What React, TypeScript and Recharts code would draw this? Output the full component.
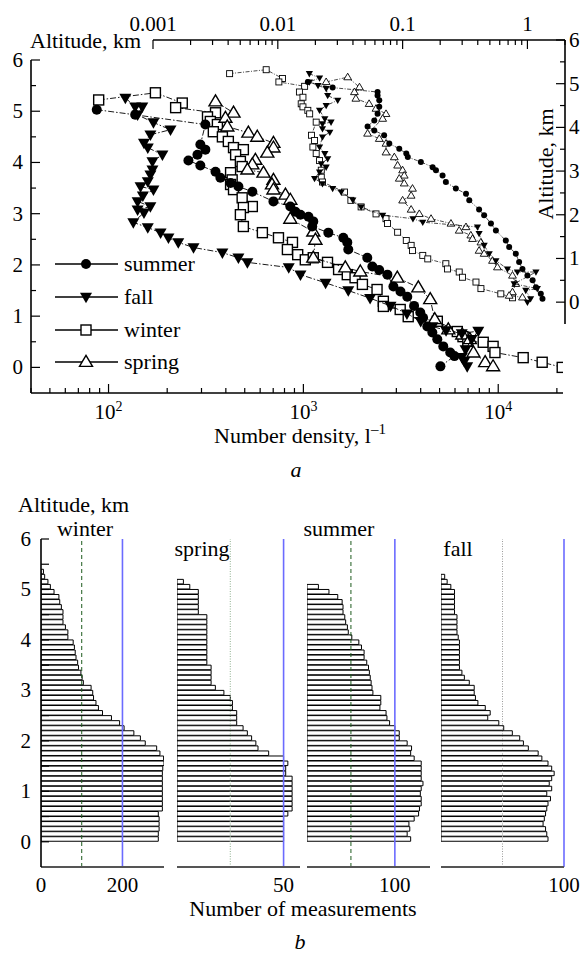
import React from 'react';
import { ScatterChart, Scatter, XAxis, YAxis, BarChart, Bar, ReferenceLine } from 'recharts';

const FONT = '"Liberation Serif", "Times New Roman", Times, serif';
const TICK_FS = 21;
const TEXT_FS = 22;

// ---------- (a) number density, l^-1, vs altitude, km (bottom + left axes)
const SUMMER_N = [87, 137, 314, 296, 314, 286, 257, 296, 354, 375, 423, 464, 547, 702, 857, 909, 966, 1062, 1124, 1110, 1343, 1603, 1680, 1700, 2128, 2260, 2450, 2700, 2898, 3150, 3414, 3700, 3981, 4115, 4326, 4590, 4868, 5224, 5670, 5960, 5050];
const SUMMER_ALT = [5.03, 4.93, 4.74, 4.35, 4.25, 4.15, 4.04, 3.94, 3.82, 3.7, 3.6, 3.53, 3.43, 3.24, 3.14, 3.04, 2.98, 2.94, 2.85, 2.75, 2.63, 2.53, 2.44, 2.3, 2.14, 1.97, 1.9, 1.81, 1.58, 1.48, 1.38, 1.2, 1.07, 0.97, 0.8, 0.68, 0.55, 0.41, 0.29, 0.22, 0.02];

const FALL_N = [122, 137, 149, 141, 170, 208, 164, 152, 159, 189, 168, 168, 164, 159, 146, 170, 150, 141, 164, 141, 152, 134, 159, 185, 203, 228, 273, 384, 464, 516, 841, 966, 1300, 1700, 2200, 2800, 3400, 4000, 4600, 5400, 6500, 7900, 7300, 6800, 6500, 6700, 6930];
const FALL_ALT = [5.26, 5.09, 5.09, 4.93, 4.78, 4.64, 4.54, 4.38, 4.29, 4.15, 4.02, 3.86, 3.76, 3.63, 3.53, 3.47, 3.35, 3.24, 3.14, 3.08, 3.02, 2.83, 2.73, 2.63, 2.53, 2.44, 2.34, 2.24, 2.14, 2.05, 1.95, 1.81, 1.65, 1.5, 1.35, 1.2, 1.05, 0.9, 0.8, 0.72, 0.66, 0.71, 0.55, 0.35, 0.2, 0.12, 0.02];

const WINTER_N = [89, 174, 239, 221, 354, 322, 333, 362, 345, 384, 412, 438, 492, 449, 475, 485, 423, 431, 423, 438, 485, 547, 492, 475, 492, 616, 745, 879, 828, 935, 1023, 1124, 1330, 1516, 1680, 1842, 2009, 2388, 2573, 2573, 3140, 3452, 4868, 6166, 6594, 6980, 8376, 9413, 9620, 13430, 16810, 21300];
const WINTER_ALT = [5.22, 5.36, 5.16, 5.07, 4.97, 4.89, 4.8, 4.74, 4.6, 4.5, 4.41, 4.29, 4.25, 4.15, 4.02, 3.92, 3.8, 3.66, 3.57, 3.47, 3.31, 3.14, 3.12, 2.98, 2.75, 2.63, 2.53, 2.44, 2.3, 2.2, 2.1, 2.14, 2.05, 1.91, 1.81, 1.75, 1.62, 1.52, 1.29, 1.19, 1.13, 0.99, 0.9, 0.7, 0.6, 0.51, 0.49, 0.41, 0.29, 0.19, 0.1, 0.0];

const SPRING_N = [354, 438, 398, 407, 522, 580, 702, 702, 653, 567, 547, 516, 624, 702, 690, 702, 809, 857, 857, 1124, 1153, 1124, 1641, 1960, 3034, 3890, 4477, 4722, 5543, 6540, 7150, 7460, 8570, 9413];
const SPRING_ALT = [5.19, 4.97, 4.87, 4.7, 4.58, 4.5, 4.38, 4.29, 4.19, 4.05, 3.96, 3.86, 3.8, 3.66, 3.57, 3.47, 3.37, 3.27, 2.9, 2.65, 2.49, 2.14, 1.95, 1.87, 1.75, 1.56, 1.33, 0.94, 0.74, 0.64, 0.55, 0.29, 0.1, 0.02];

// ---------- (a) second set of profiles (top + right axes)
const SUMMER_TOP_N = [0.0174, 0.0275, 0.063, 0.063, 0.065, 0.065, 0.063, 0.0593, 0.0524, 0.0593, 0.0711, 0.0782, 0.094, 0.107, 0.11, 0.14, 0.174, 0.185, 0.209, 0.222, 0.267, 0.322, 0.342, 0.41, 0.45, 0.51, 0.559, 0.671, 0.714, 0.807, 0.858, 0.912, 1.0, 1.1, 1.17, 1.28, 1.32];
const SUMMER_TOP_ALT = [5.04, 4.91, 4.81, 4.73, 4.62, 4.47, 4.31, 4.16, 4.02, 3.93, 3.82, 3.63, 3.51, 3.4, 3.32, 3.21, 3.09, 3.02, 2.9, 2.75, 2.6, 2.48, 2.33, 2.12, 1.99, 1.8, 1.64, 1.41, 1.26, 1.11, 0.92, 0.76, 0.61, 0.5, 0.34, 0.19, 0.08];

const FALL_TOP_N = [0.0179, 0.0216, 0.0179, 0.021, 0.0244, 0.0251, 0.0302, 0.0244, 0.0216, 0.0238, 0.0267, 0.0228, 0.0228, 0.0261, 0.0228, 0.0216, 0.0238, 0.0251, 0.0223, 0.0244, 0.0216, 0.0197, 0.0228, 0.0275, 0.0322, 0.0399, 0.0465, 0.0692, 0.121, 0.145, 0.398, 0.41, 0.45, 0.494, 0.559, 0.692, 0.832, 1.17, 0.783, 1.2, 0.97, 1.06, 1.0];
const FALL_TOP_ALT = [5.23, 5.13, 5.04, 4.96, 4.89, 4.73, 4.62, 4.5, 4.39, 4.2, 4.12, 4.08, 3.97, 3.89, 3.78, 3.55, 3.4, 3.28, 3.17, 3.09, 2.98, 2.83, 2.71, 2.6, 2.52, 2.34, 2.18, 1.99, 1.91, 1.83, 1.72, 1.57, 1.3, 1.11, 0.95, 0.76, 0.69, 0.69, 0.42, 0.31, 0.27, 0.08, 0.0];

const WINTER_TOP_N = [0.00411, 0.00807, 0.0109, 0.0102, 0.0164, 0.0149, 0.0159, 0.0154, 0.0159, 0.0174, 0.018, 0.0203, 0.0186, 0.0197, 0.0191, 0.0203, 0.0216, 0.0223, 0.0223, 0.0228, 0.0342, 0.0385, 0.0465, 0.0612, 0.0736, 0.0757, 0.0912, 0.107, 0.117, 0.12, 0.145, 0.159, 0.222, 0.229, 0.284, 0.302, 0.387, 0.424, 0.612, 0.759];
const WINTER_TOP_ALT = [5.23, 5.32, 5.12, 5.04, 4.94, 4.81, 4.69, 4.54, 4.47, 4.39, 4.31, 4.12, 3.82, 3.7, 3.55, 3.4, 3.24, 3.02, 2.86, 2.75, 2.52, 2.33, 2.18, 2.02, 1.91, 1.8, 1.6, 1.41, 1.3, 1.18, 1.07, 0.99, 0.88, 0.76, 0.69, 0.57, 0.46, 0.31, 0.19, 0.1];

const SPRING_TOP_N = [0.0244, 0.0363, 0.0451, 0.0411, 0.0422, 0.0539, 0.0612, 0.0736, 0.0692, 0.0524, 0.065, 0.0736, 0.0736, 0.0858, 0.0912, 0.1, 0.103, 0.094, 0.103, 0.12, 0.117, 0.1, 0.117, 0.136, 0.169, 0.244, 0.322, 0.284, 0.352, 0.363, 0.424, 0.41, 0.45, 0.525, 0.575, 0.759, 0.807, 0.759, 0.714, 0.912];
const SPRING_TOP_ALT = [5.04, 5.15, 4.92, 4.81, 4.66, 4.54, 4.43, 4.31, 4.2, 3.86, 3.74, 3.63, 3.43, 3.32, 3.13, 3.02, 2.9, 2.83, 2.72, 2.6, 2.44, 2.33, 2.12, 2.02, 1.91, 1.8, 1.72, 1.64, 1.53, 1.45, 1.37, 1.18, 1.11, 0.95, 0.8, 0.61, 0.42, 0.23, 0.15, 0.11];

// ---------- (b) number of measurements per 0.1-km altitude bin, from the ground up
const BIN_KM = 0.1;
const WINTER_COUNTS = [288, 288, 290, 290, 290, 288, 298, 298, 298, 298, 298, 298, 298, 298, 299, 302, 301, 292, 284, 256, 244, 228, 204, 193, 173, 151, 141, 135, 129, 127, 123, 104, 101, 98, 92, 90, 86, 84, 82, 79, 66, 66, 60, 54, 54, 54, 50, 46, 44, 32, 23, 17, 9, 6];
const SPRING_COUNTS = [50, 50, 50, 50, 50, 52, 54, 54, 54, 54, 54, 54, 54, 51, 51, 52, 50, 43, 38, 37, 35, 33, 31, 28, 28, 28, 26, 26, 25, 22, 18, 16, 16, 16, 16, 14, 14, 14, 14, 14, 14, 14, 14, 14, 14, 10, 10, 10, 10, 10, 6, 3];
const SUMMER_COUNTS = [118, 114, 117, 116, 122, 127, 128, 130, 130, 129, 130, 132, 130, 130, 130, 130, 122, 118, 119, 114, 105, 105, 100, 94, 91, 90, 83, 84, 84, 75, 74, 73, 72, 71, 70, 68, 65, 65, 62, 59, 51, 47, 46, 44, 43, 41, 41, 40, 35, 25, 13];
const FALL_COUNTS = [87, 86, 85, 83, 84, 85, 86, 87, 89, 86, 90, 88, 90, 92, 90, 87, 82, 79, 71, 67, 64, 58, 51, 47, 38, 40, 36, 30, 28, 27, 27, 23, 19, 17, 15, 15, 15, 15, 15, 15, 14, 13, 13, 13, 13, 11, 11, 11, 11, 11, 8, 5, 3];

// ---------- axis ticks
const MAIN_X_TICKS = [40, 50, 60, 70, 80, 90, 100, 200, 300, 400, 500, 600, 700, 800, 900, 1000, 2000, 3000, 4000, 5000, 6000, 7000, 8000, 9000, 10000, 20000];
const MAIN_X_LABELS = [100, 1000, 10000];
const TOP_X_TICKS = [0.001, 0.002, 0.003, 0.004, 0.005, 0.006, 0.007, 0.008, 0.009, 0.01, 0.02, 0.03, 0.04, 0.05, 0.06, 0.07, 0.08, 0.09, 0.1, 0.2, 0.3, 0.4, 0.5, 0.6, 0.7, 0.8, 0.9, 1, 2];
const TOP_X_LABELS = [0.001, 0.01, 0.1, 1];
const ALT_TICKS = [0, 0.5, 1, 1.5, 2, 2.5, 3, 3.5, 4, 4.5, 5, 5.5, 6];

type Kind = 'circle' | 'down' | 'square' | 'up';

const LEGEND_ROWS: { name: string; kind: Kind }[] = [
  { name: 'summer', kind: 'circle' },
  { name: 'fall', kind: 'down' },
  { name: 'winter', kind: 'square' },
  { name: 'spring', kind: 'up' },
];

const zip = (n: number[], alt: number[]) => n.map((v, i) => ({ n: v, alt: alt[i] }));

const MAIN_SERIES = [
  { name: 'winter', kind: 'square' as Kind, data: zip(WINTER_N, WINTER_ALT) },
  { name: 'spring', kind: 'up' as Kind, data: zip(SPRING_N, SPRING_ALT) },
  { name: 'fall', kind: 'down' as Kind, data: zip(FALL_N, FALL_ALT) },
  { name: 'summer', kind: 'circle' as Kind, data: zip(SUMMER_N, SUMMER_ALT) },
];

const TOP_SERIES = [
  { name: 'winter', kind: 'square' as Kind, data: zip(WINTER_TOP_N, WINTER_TOP_ALT) },
  { name: 'spring', kind: 'up' as Kind, data: zip(SPRING_TOP_N, SPRING_TOP_ALT) },
  { name: 'fall', kind: 'down' as Kind, data: zip(FALL_TOP_N, FALL_TOP_ALT) },
  { name: 'summer', kind: 'circle' as Kind, data: zip(SUMMER_TOP_N, SUMMER_TOP_ALT) },
];

function Marker({ kind, cx, cy, small }: { kind: Kind; cx: number; cy: number; small?: boolean }) {
  if (cx == null || cy == null || isNaN(cx) || isNaN(cy)) return null;
  const k = small ? 0.6 : 1;
  const sw = small ? 0.9 : 1.4;
  switch (kind) {
    case 'circle':
      return <circle cx={cx} cy={cy} r={5 * k} fill="#000" />;
    case 'down': {
      const w = 6 * k;
      const h = 10.5 * k;
      return <polygon points={`${cx - w},${cy - h * 0.4} ${cx + w},${cy - h * 0.4} ${cx},${cy + h * 0.6}`} fill="#000" />;
    }
    case 'square': {
      const s = 5 * k;
      return <rect x={cx - s} y={cy - s} width={2 * s} height={2 * s} fill="#fff" stroke="#000" strokeWidth={sw} />;
    }
    case 'up': {
      const w = 6.5 * k;
      const h = 11 * k;
      return <polygon points={`${cx},${cy - h * 0.6} ${cx + w},${cy + h * 0.4} ${cx - w},${cy + h * 0.4}`} fill="#fff" stroke="#000" strokeWidth={sw} />;
    }
  }
  return null;
}

function BottomLogTick(props: any) {
  const { x, y, payload } = props;
  const v = payload.value as number;
  const major = MAIN_X_LABELS.includes(v);
  return (
    <g>
      <line x1={x} x2={x} y1={y} y2={y - (major ? 9 : 5)} stroke="#000" strokeWidth={1.2} />
      {major && (
        <text x={x} y={y + 26} textAnchor="middle" fontFamily={FONT} fontSize={TICK_FS} fill="#000">
          10<tspan dy={-8} fontSize={14}>{Math.round(Math.log10(v))}</tspan>
        </text>
      )}
    </g>
  );
}

function TopLogTick(props: any) {
  const { x, y, payload } = props;
  const v = payload.value as number;
  const major = TOP_X_LABELS.includes(v);
  return (
    <g>
      <line x1={x} x2={x} y1={y} y2={y + (major ? 9 : 5)} stroke="#000" strokeWidth={1.2} />
      {major && (
        <text x={x} y={y - 9} textAnchor="middle" fontFamily={FONT} fontSize={TICK_FS} fill="#000">
          {String(v)}
        </text>
      )}
    </g>
  );
}

function LeftAltTick(props: any) {
  const { x, y, payload } = props;
  const v = payload.value as number;
  const major = Number.isInteger(v);
  return (
    <g>
      <line x1={x} x2={x + (major ? 9 : 5)} y1={y} y2={y} stroke="#000" strokeWidth={1.2} />
      {major && (
        <text x={x - 8} y={y + 7} textAnchor="end" fontFamily={FONT} fontSize={TICK_FS} fill="#000">
          {v}
        </text>
      )}
    </g>
  );
}

function RightAltTick(props: any) {
  const { x, y, payload } = props;
  const v = payload.value as number;
  const major = Number.isInteger(v);
  return (
    <g>
      <line x1={x} x2={x - (major ? 9 : 5)} y1={y} y2={y} stroke="#000" strokeWidth={1.2} />
      {major && (
        <text x={x + 4} y={y + 7} textAnchor="start" fontFamily={FONT} fontSize={TICK_FS} fill="#000">
          {v}
        </text>
      )}
    </g>
  );
}

function PanelAltTick(props: any) {
  const { x, y, payload } = props;
  const v = payload.value as number;
  const major = Number.isInteger(v);
  return (
    <g>
      <line x1={x} x2={x + 8} y1={y} y2={y} stroke="#000" strokeWidth={1.2} />
      {major && (
        <text x={x - 10} y={y + 7} textAnchor="end" fontFamily={FONT} fontSize={TICK_FS} fill="#000">
          {v}
        </text>
      )}
    </g>
  );
}

function CountTick(props: any) {
  const { x, y, payload } = props;
  return (
    <text x={x} y={y + 25} textAnchor="middle" fontFamily={FONT} fontSize={TICK_FS} fill="#000">
      {payload.value}
    </text>
  );
}

const MAIN_LINE = { stroke: '#000', strokeWidth: 0.9, strokeDasharray: '6 2 1.5 2' };
const TOP_LINE = { stroke: '#000', strokeWidth: 0.7, strokeDasharray: '4 1.5 1 1.5' };

function DensityMain() {
  return (
    <div style={{ position: 'absolute', left: 0, top: 0 }}>
      <ScatterChart width={587} height={430} margin={{ top: 60, right: 24, bottom: 7, left: 0 }}>
        <XAxis
          xAxisId="n"
          dataKey="n"
          type="number"
          scale="log"
          domain={[40, 21500]}
          allowDataOverflow
          ticks={MAIN_X_TICKS}
          interval={0}
          tickLine={false}
          tickSize={0}
          tickMargin={0}
          height={30}
          axisLine={{ stroke: '#000', strokeWidth: 1.5 }}
          tick={(p: any) => <BottomLogTick {...p} />}
        />
        <YAxis
          yAxisId="alt"
          dataKey="alt"
          type="number"
          domain={[-0.5, 6]}
          allowDataOverflow
          ticks={ALT_TICKS}
          interval={0}
          width={31}
          tickLine={false}
          tickSize={0}
          tickMargin={0}
          axisLine={{ stroke: '#000', strokeWidth: 1.6 }}
          tick={(p: any) => <LeftAltTick {...p} />}
        />
        {MAIN_SERIES.map((s) => (
          <Scatter
            key={s.name}
            name={s.name}
            xAxisId="n"
            yAxisId="alt"
            data={s.data}
            line={MAIN_LINE}
            lineType="joint"
            isAnimationActive={false}
            shape={(p: any) => <Marker kind={s.kind} cx={p.cx} cy={p.cy} />}
          />
        ))}
      </ScatterChart>
    </div>
  );
}

function DensityTop() {
  return (
    <div style={{ position: 'absolute', left: 0, top: 0 }}>
      <ScatterChart width={587} height={330} margin={{ top: 0, right: 0, bottom: 6, left: 153 }}>
        <XAxis
          xAxisId="t"
          orientation="top"
          dataKey="n"
          type="number"
          scale="log"
          domain={[0.001, 2]}
          allowDataOverflow
          ticks={TOP_X_TICKS}
          interval={0}
          tickLine={false}
          tickSize={0}
          tickMargin={0}
          height={40}
          axisLine={{ stroke: '#000', strokeWidth: 1.5 }}
          tick={(p: any) => <TopLogTick {...p} />}
        />
        <YAxis
          yAxisId="r"
          orientation="right"
          dataKey="alt"
          type="number"
          domain={[-0.5, 6]}
          allowDataOverflow
          ticks={ALT_TICKS}
          interval={0}
          width={22}
          tickLine={false}
          tickSize={0}
          tickMargin={0}
          axisLine={{ stroke: '#000', strokeWidth: 1.6 }}
          tick={(p: any) => <RightAltTick {...p} />}
        />
        {TOP_SERIES.map((s) => (
          <Scatter
            key={s.name}
            name={s.name}
            xAxisId="t"
            yAxisId="r"
            data={s.data}
            line={TOP_LINE}
            lineType="joint"
            isAnimationActive={false}
            shape={(p: any) => <Marker kind={s.kind} cx={p.cx} cy={p.cy} small />}
          />
        ))}
      </ScatterChart>
    </div>
  );
}

interface PanelProps {
  left: number;
  plotWidth: number;
  axisWidth: number;
  rightPad: number;
  counts: number[];
  max: number;
  labels: number[];
  blueAt: number;
  guideAt: number;
  guideColor: string;
  guideDash: string;
  showAlt?: boolean;
}

function CountPanel({ left, plotWidth, axisWidth, rightPad, counts, max, labels, blueAt, guideAt, guideColor, guideDash, showAlt }: PanelProps) {
  const rows = counts.map((c, i) => ({ alt: (i + 0.5) * BIN_KM, count: c }));
  return (
    <div style={{ position: 'absolute', left, top: 520 }}>
      <BarChart
        layout="vertical"
        width={axisWidth + plotWidth + rightPad}
        height={380}
        data={rows}
        margin={{ top: 19, right: rightPad, bottom: 0, left: 0 }}
        barCategoryGap={0}
        barGap={0}
      >
        <XAxis
          type="number"
          domain={[0, max]}
          allowDataOverflow
          ticks={labels}
          interval={0}
          tickLine={false}
          tickSize={0}
          tickMargin={0}
          height={33}
          axisLine={{ stroke: '#555', strokeWidth: 2 }}
          tick={(p: any) => <CountTick {...p} />}
        />
        <YAxis
          type="number"
          dataKey="alt"
          domain={[-0.5, 6]}
          allowDataOverflow
          reversed
          hide={!showAlt}
          width={axisWidth}
          ticks={ALT_TICKS}
          interval={0}
          tickLine={false}
          tickSize={0}
          tickMargin={0}
          axisLine={{ stroke: '#000', strokeWidth: 1.6 }}
          tick={(p: any) => <PanelAltTick {...p} />}
        />
        <ReferenceLine x={guideAt} stroke={guideColor} strokeWidth={1} strokeDasharray={guideDash} />
        <ReferenceLine x={blueAt} stroke="#6b6bff" strokeWidth={1.6} />
        <Bar dataKey="count" fill="#fff" stroke="#000" strokeWidth={1} barSize={5.05} isAnimationActive={false} />
      </BarChart>
    </div>
  );
}

function Labels() {
  const t = { fontFamily: FONT, fontSize: TEXT_FS, fill: '#000' } as const;
  const legendY = [264, 297, 330, 362];
  return (
    <svg width={587} height={958} style={{ position: 'absolute', left: 0, top: 0, pointerEvents: 'none' }}>
      <text x={30} y={48} {...t}>Altitude, km</text>
      <text x={553} y={164} textAnchor="middle" transform="rotate(-90 553 164)" {...t}>Altitude, km</text>
      <text x={300} y={443} textAnchor="middle" {...t}>
        Number density, l<tspan dy={-9} fontSize={15}>–1</tspan>
      </text>
      <text x={296} y={477} textAnchor="middle" fontStyle="italic" {...t}>a</text>

      {LEGEND_ROWS.map((r, i) => (
        <g key={r.name}>
          <line x1={55} x2={118} y1={legendY[i]} y2={legendY[i]} stroke="#000" strokeWidth={1.3} />
          <Marker kind={r.kind} cx={86} cy={legendY[i]} />
          <text x={124} y={legendY[i] + 7} {...t}>{r.name}</text>
        </g>
      ))}

      <text x={18} y={512} {...t}>Altitude, km</text>
      <text x={85} y={536} textAnchor="middle" {...t}>winter</text>
      <text x={202} y={556} textAnchor="middle" {...t}>spring</text>
      <text x={339} y={536} textAnchor="middle" {...t}>summer</text>
      <text x={458} y={556} textAnchor="middle" {...t}>fall</text>
      <text x={303} y={916} textAnchor="middle" {...t}>Number of measurements</text>
      <text x={300} y={949} textAnchor="middle" fontStyle="italic" {...t}>b</text>
    </svg>
  );
}

export default function App() {
  return (
    <div style={{ position: 'absolute', left: 0, top: 0, width: 587, height: 958, background: '#fff' }}>
      <DensityMain />
      <DensityTop />
      <CountPanel left={0} plotWidth={123} axisWidth={41} rightPad={1} counts={WINTER_COUNTS} max={302} labels={[0, 200]} blueAt={200} guideAt={100} guideColor="#1d5a1d" guideDash="4 3" showAlt />
      <CountPanel left={177} plotWidth={123} axisWidth={0} rightPad={1} counts={SPRING_COUNTS} max={57.7} labels={[50]} blueAt={50} guideAt={25} guideColor="#8fb08f" guideDash="1 1.5" />
      <CountPanel left={307} plotWidth={123} axisWidth={0} rightPad={1} counts={SUMMER_COUNTS} max={140} labels={[100]} blueAt={100} guideAt={50} guideColor="#1d5a1d" guideDash="4 3" />
      <CountPanel left={441} plotWidth={123} axisWidth={0} rightPad={20} counts={FALL_COUNTS} max={100} labels={[100]} blueAt={100} guideAt={50} guideColor="#9a9a9a" guideDash="1 1.5" />
      <Labels />
    </div>
  );
}
